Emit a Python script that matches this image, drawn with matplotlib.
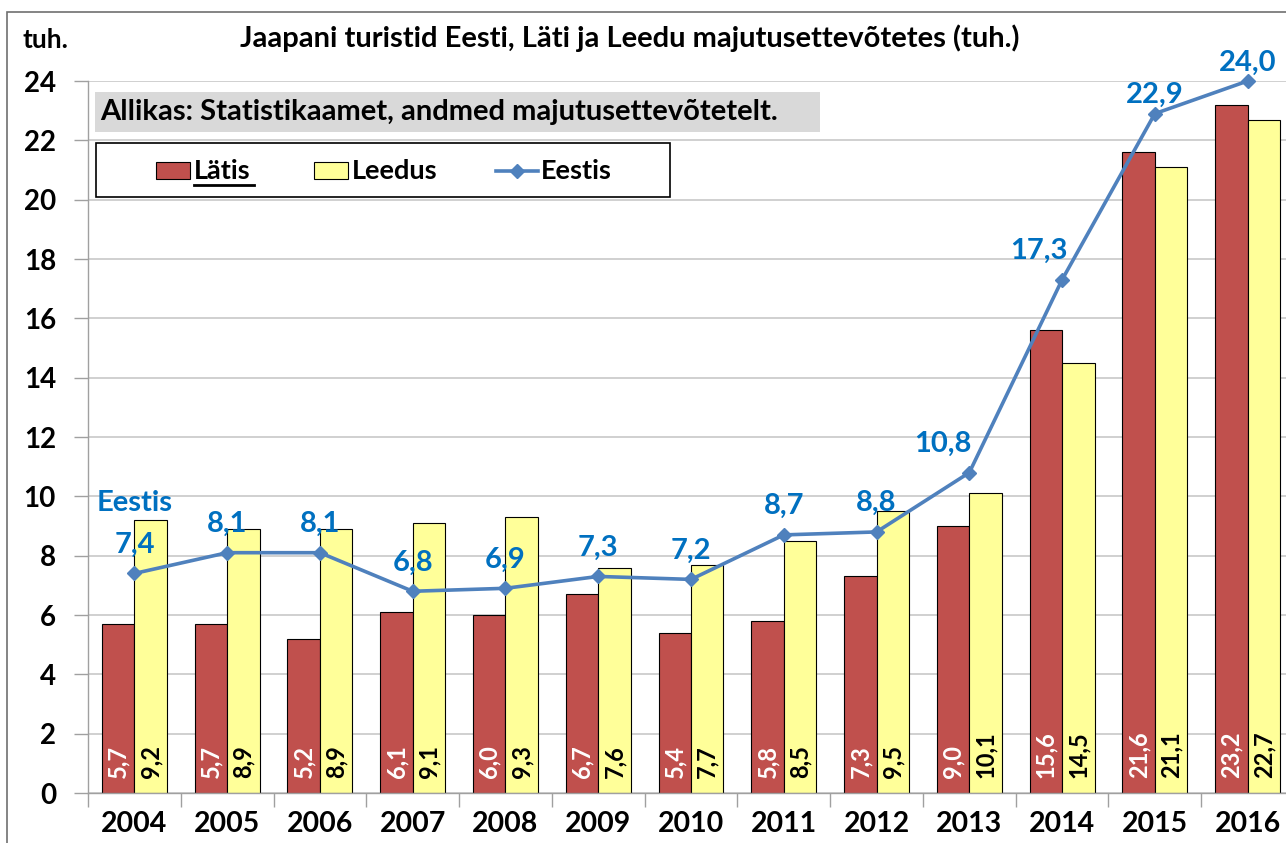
import matplotlib
matplotlib.use("Agg")
import numpy as np
from matplotlib import pyplot as plt
from matplotlib.patches import Rectangle
from matplotlib.lines import Line2D

years = ["2004", "2005", "2006", "2007", "2008", "2009", "2010",
         "2011", "2012", "2013", "2014", "2015", "2016"]
latis = [5.7, 5.7, 5.2, 6.1, 6.0, 6.7, 5.4, 5.8, 7.3, 9.0, 15.6, 21.6, 23.2]
leedus = [9.2, 8.9, 8.9, 9.1, 9.3, 7.6, 7.7, 8.5, 9.5, 10.1, 14.5, 21.1, 22.7]
eestis = [7.4, 8.1, 8.1, 6.8, 6.9, 7.3, 7.2, 8.7, 8.8, 10.8, 17.3, 22.9, 24.0]

title = "Jaapani turistid Eesti, Läti ja Leedu majutusettevõtetes (tuh.)"
source = "Allikas: Statistikaamet, andmed majutusettevõtetelt."

RED = "#C0504D"
YELLOW = "#FFFF99"
LINE = "#4F81BD"
LBL = "#0070C0"

plt.rcParams["font.family"] = ["Lato", "DejaVu Sans"]
plt.rcParams["font.weight"] = "bold"

W, H = 1286, 843
fig = plt.figure(figsize=(W / 100, H / 100), dpi=100)

def fx(px):
    return px / W

def fy(py):
    return 1 - py / H

def comma(v):
    return f"{v:.1f}".replace(".", ",")

# plot area (right edge runs a little past the image, as in the reference)
ax = fig.add_axes([fx(88), fy(793), fx(1294 - 88), (793 - 81) / H])

x = np.arange(len(years))
bw = 0.35
ax.bar(x - bw / 2, latis, bw, color=RED, edgecolor="black", linewidth=0.8, zorder=2)
ax.bar(x + bw / 2, leedus, bw, color=YELLOW, edgecolor="black", linewidth=0.8, zorder=2)
ax.plot(x, eestis, color=LINE, linewidth=2.6, marker="D", markersize=7,
        markerfacecolor=LINE, markeredgecolor=LINE, zorder=4, clip_on=False)

# offsets (points) of the Eestis labels, as placed in the original
lbl_dx = [0, 0, 0, 0, 0, 0, 0, 0, 0, -19, -17, 0, 0]
lbl_dy = [15, 15, 15, 15, 15, 15, 15, 15, 15, 15, 15, 8, 7]

for i in range(len(years)):
    ax.text(x[i] - bw / 2, 0.52, comma(latis[i]), rotation=90,
            ha="center", va="bottom", color="white", fontsize=17, fontweight="bold", zorder=5)
    ax.text(x[i] + bw / 2, 0.52, comma(leedus[i]), rotation=90,
            ha="center", va="bottom", color="black", fontsize=17, fontweight="bold", zorder=5)
    ax.annotate(comma(eestis[i]), (x[i], eestis[i]),
                xytext=(lbl_dx[i], lbl_dy[i]), textcoords="offset points", ha="center", va="baseline",
                color=LBL, fontsize=21, fontweight="bold", zorder=6, annotation_clip=False)
ax.annotate("Eestis", (x[0], eestis[0]), xytext=(0, 45), textcoords="offset points",
            ha="center", va="baseline", color=LBL, fontsize=21, fontweight="bold", zorder=6)

ax.set_xlim(-0.5, len(years) - 0.5)
ax.set_ylim(0, 24)
ax.set_yticks(np.arange(0, 25, 2))
ax.set_xticks(x)
ax.set_xticklabels(years)
ax.set_xticks(np.arange(-0.5, len(years), 1), minor=True)
ax.tick_params(axis="x", which="major", length=0, pad=13, labelsize=20.5)
ax.tick_params(axis="x", which="minor", length=10, color="#A0A0A0", width=1)
ax.tick_params(axis="y", length=10, color="#A0A0A0", width=1, pad=13, labelsize=20)
for lab in ax.get_xticklabels() + ax.get_yticklabels():
    lab.set_fontweight("bold")
ax.grid(axis="y", color="#C8C8C8", linewidth=1.2, zorder=0)
ax.set_axisbelow(True)
for s in ["top", "right"]:
    ax.spines[s].set_visible(False)
for s in ["left", "bottom"]:
    ax.spines[s].set_color("#A0A0A0")
    ax.spines[s].set_linewidth(1)

# chart border
fig.patches.append(Rectangle((fx(7), fy(900)), fx(1400), (900 - 12) / H, transform=fig.transFigure,
                             fill=False, edgecolor="#707070", linewidth=1.2))

# titles
fig.text(fx(630), fy(38), title, ha="center", va="center", fontsize=21, fontweight="bold")
fig.text(fx(45), fy(40), "tuh.", ha="center", va="center", fontsize=19, fontweight="bold")

# source box
fig.patches.append(Rectangle((fx(95), fy(132)), fx(820 - 95), (132 - 92) / H,
                             transform=fig.transFigure, facecolor="#D9D9D9", edgecolor="none", zorder=3))
fig.text(fx(100), fy(112), source, ha="left", va="center", fontsize=21, fontweight="bold", zorder=4)

# legend, laid out by hand to match the original box
fig.patches.append(Rectangle((fx(96), fy(197)), fx(670 - 96), (197 - 143) / H,
                             transform=fig.transFigure, facecolor="white", edgecolor="black",
                             linewidth=1.2, zorder=5))
for x0, col in [(156, RED), (314, YELLOW)]:
    fig.patches.append(Rectangle((fx(x0), fy(179)), fx(34), 17 / H, transform=fig.transFigure,
                                 facecolor=col, edgecolor="black", linewidth=0.8, zorder=6))
fig.add_artist(Line2D([fx(496), fx(538)], [fy(171), fy(171)], color=LINE, linewidth=2.6,
                      transform=fig.transFigure, zorder=6))
fig.add_artist(Line2D([fx(517)], [fy(171)], color=LINE, marker="D", markersize=7,
                      transform=fig.transFigure, zorder=7))
for x0, txt in [(194, "Lätis"), (352, "Leedus"), (541, "Eestis")]:
    fig.text(fx(x0), fy(171), txt, ha="left", va="center", fontsize=19.5, fontweight="bold", zorder=7)
fig.add_artist(Line2D([fx(194), fx(254)], [fy(185), fy(185)], color="black", linewidth=2,
                      transform=fig.transFigure, zorder=7))

fig.savefig("out.png", dpi=100)
